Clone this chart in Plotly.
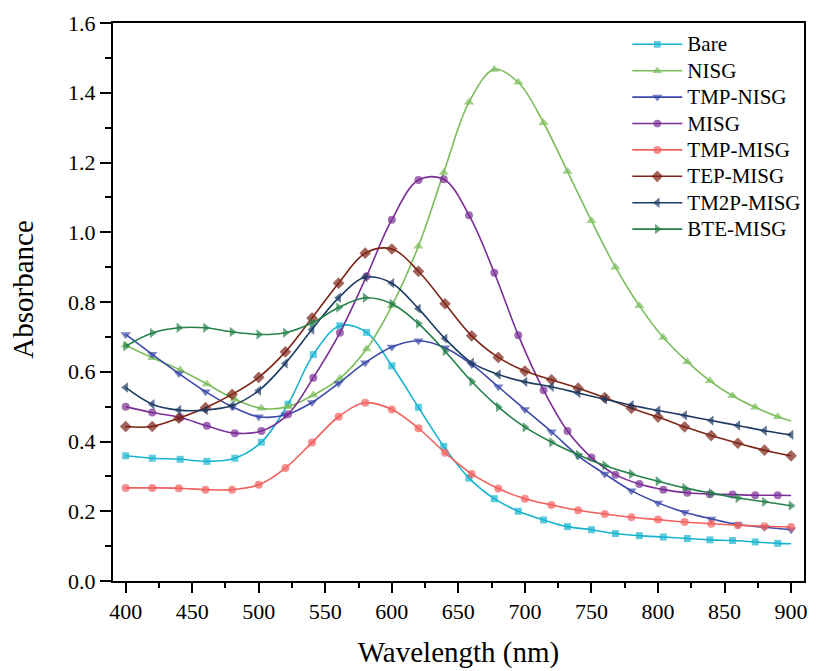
import plotly.graph_objects as go

# Wavelength grids (nm) at which the spectra are sampled
wl_fine = [400, 420, 441, 461, 482, 502, 522, 541, 561, 581, 600, 620, 639, 658,
           677, 695, 714, 732, 750, 768, 786, 804, 822, 839, 856, 873, 890, 900]
wl_20 = [400, 420, 440, 460, 480, 500, 520, 540, 560, 580, 600, 620, 640, 660,
         680, 700, 720, 740, 760, 780, 800, 820, 840, 860, 880, 900]

# Absorbance spectra
bare = [0.359, 0.352, 0.349, 0.343, 0.352, 0.398, 0.507, 0.649, 0.732, 0.713, 0.617, 0.498,
        0.386, 0.295, 0.236, 0.200, 0.175, 0.156, 0.147, 0.136, 0.130, 0.126, 0.122, 0.118,
        0.116, 0.112, 0.108, 0.107]
nisg = [0.676, 0.640, 0.605, 0.565, 0.521, 0.495, 0.500, 0.533, 0.581, 0.665, 0.789, 0.960,
        1.171, 1.373, 1.467, 1.430, 1.314, 1.174, 1.033, 0.900, 0.789, 0.698, 0.629, 0.574,
        0.531, 0.498, 0.471, 0.459]
misg = [0.500, 0.483, 0.469, 0.445, 0.424, 0.430, 0.478, 0.583, 0.712, 0.874, 1.036, 1.150,
        1.152, 1.049, 0.884, 0.705, 0.547, 0.430, 0.354, 0.305, 0.278, 0.262, 0.253, 0.249,
        0.248, 0.246, 0.246, 0.245]
tmp_nisg = [0.707, 0.650, 0.595, 0.543, 0.500, 0.471, 0.476, 0.512, 0.567, 0.626, 0.671, 0.689,
            0.669, 0.621, 0.557, 0.492, 0.428, 0.359, 0.307, 0.259, 0.224, 0.197, 0.178, 0.162,
            0.154, 0.147]
tmp_misg = [0.267, 0.267, 0.266, 0.262, 0.262, 0.276, 0.324, 0.397, 0.471, 0.511, 0.492, 0.438,
            0.368, 0.307, 0.265, 0.236, 0.218, 0.203, 0.192, 0.183, 0.176, 0.169, 0.164, 0.160,
            0.157, 0.155]
tep_misg = [0.443, 0.443, 0.467, 0.497, 0.535, 0.584, 0.657, 0.754, 0.854, 0.940, 0.952, 0.888,
            0.795, 0.703, 0.641, 0.602, 0.577, 0.553, 0.526, 0.495, 0.470, 0.442, 0.417, 0.395,
            0.375, 0.359]
tm2p_misg = [0.555, 0.507, 0.490, 0.490, 0.503, 0.546, 0.624, 0.721, 0.812, 0.871, 0.854, 0.781,
             0.695, 0.626, 0.592, 0.571, 0.557, 0.539, 0.521, 0.504, 0.489, 0.475, 0.460, 0.446,
             0.431, 0.419]
bte_misg = [0.673, 0.711, 0.726, 0.726, 0.714, 0.707, 0.712, 0.740, 0.784, 0.812, 0.795, 0.738,
            0.659, 0.572, 0.499, 0.441, 0.398, 0.362, 0.331, 0.307, 0.286, 0.267, 0.252, 0.238,
            0.227, 0.216]

x_ticks = [400, 450, 500, 550, 600, 650, 700, 750, 800, 850, 900]
y_ticks = [0.0, 0.2, 0.4, 0.6, 0.8, 1.0, 1.2, 1.4, 1.6]

# (name, x, y, colour, symbol, size, last point carries a marker)
series = [
    ("Bare", wl_fine, bare, "#19B3D0", "square", 7, False),
    ("NISG", wl_fine, nisg, "#7BBD5B", "triangle-up", 9, False),
    ("TMP-NISG", wl_20, tmp_nisg, "#3C4AA9", "triangle-down", 9, True),
    ("MISG", wl_fine, misg, "#7A2E96", "circle", 8, False),
    ("TMP-MISG", wl_20, tmp_misg, "#F2605C", "circle", 8, True),
    ("TEP-MISG", wl_20, tep_misg, "#7C2416", "diamond", 9, True),
    ("TM2P-MISG", wl_20, tm2p_misg, "#1D3A62", "triangle-left", 9, True),
    ("BTE-MISG", wl_20, bte_misg, "#25804A", "triangle-right", 9, True),
]

serif = "Liberation Serif, Times New Roman, serif"

fig = go.Figure()
for name, xs, ys, color, symbol, size, last_marker in series:
    sizes = [size] * len(xs)
    if not last_marker:
        sizes[-1] = 0
    fig.add_trace(go.Scatter(
        x=xs, y=ys, mode="lines+markers",
        # legend rows are packed tightly; the entry label keeps its full size
        name=f'<span style="font-size:21px">{name}</span>',
        line=dict(color=color, width=1.6, shape="spline", smoothing=1.0),
        marker=dict(symbol=symbol, size=sizes, color=color, line=dict(width=0)),
    ))

axis_common = dict(
    showline=True, linecolor="black", linewidth=2, mirror=True,
    ticks="outside", tickcolor="black", tickwidth=2,
    showgrid=False, zeroline=False,
    tickfont=dict(family=serif, size=22, color="black"),
)

fig.update_xaxes(
    range=[390.5, 909.7], tickvals=x_ticks, ticklen=10,
    minor=dict(ticks="outside", dtick=25, tick0=400, ticklen=5, tickwidth=2, tickcolor="black"),
    title=dict(text="Wavelength (nm)", font=dict(family=serif, size=29, color="black"), standoff=18),
    **axis_common,
)
fig.update_yaxes(
    range=[0, 1.6], tickvals=y_ticks, tickformat=".1f", ticklen=11,
    minor=dict(ticks="outside", dtick=0.1, tick0=0, ticklen=6, tickwidth=2, tickcolor="black"),
    **axis_common,
)

fig.add_annotation(
    text="Absorbance", textangle=-90, showarrow=False,
    xref="paper", yref="paper", x=-0.1295, y=0.523,
    xanchor="center", yanchor="middle",
    font=dict(family=serif, size=29, color="black"),
)

fig.update_layout(
    width=816, height=671,
    margin=dict(l=113, r=8, t=23, b=88),
    paper_bgcolor="white", plot_bgcolor="white",
    showlegend=True,
    legend=dict(
        x=0.7443, y=0.9944, xanchor="left", yanchor="top",
        font=dict(family=serif, size=18, color="black"),
        bgcolor="rgba(0,0,0,0)", borderwidth=0,
        itemwidth=50, tracegroupgap=0,
    ),
)

fig.write_html("out.html")
